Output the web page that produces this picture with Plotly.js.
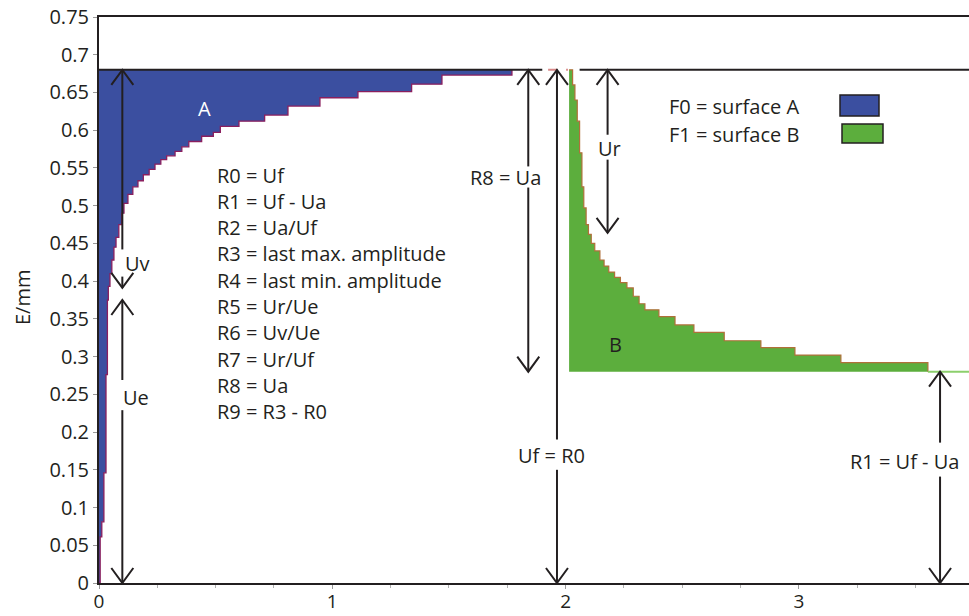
<!DOCTYPE html>
<html>
<head>
<meta charset="utf-8">
<script src="https://cdn.plot.ly/plotly-3.0.1.min.js"></script>
<style>html,body{margin:0;padding:0;background:#fff;}#chart{width:969px;height:616px;}</style>
</head>
<body>
<div id="chart"></div>
<script>
// ---- data ----
// surface A: lower staircase boundary (x where level starts, level E/mm)
const aX = [0.000, 0.005, 0.012, 0.021, 0.030, 0.036, 0.040, 0.047, 0.055, 0.064, 0.073, 0.085, 0.097, 0.107, 0.124, 0.145, 0.167, 0.190, 0.215, 0.240, 0.265, 0.290, 0.326, 0.355, 0.385, 0.440, 0.490, 0.520, 0.600, 0.710, 0.810, 0.947, 1.110, 1.340, 1.470, 1.770];
const aY = [0.000, 0.061, 0.081, 0.146, 0.276, 0.375, 0.393, 0.410, 0.428, 0.445, 0.458, 0.475, 0.490, 0.503, 0.515, 0.525, 0.533, 0.541, 0.548, 0.555, 0.561, 0.566, 0.572, 0.578, 0.585, 0.592, 0.597, 0.605, 0.612, 0.620, 0.632, 0.643, 0.651, 0.661, 0.673, 0.680];
// surface B: upper staircase boundary (relaxation)
const bX = [2.015, 2.030, 2.040, 2.050, 2.060, 2.070, 2.078, 2.088, 2.098, 2.110, 2.125, 2.147, 2.165, 2.185, 2.210, 2.235, 2.263, 2.290, 2.315, 2.340, 2.400, 2.469, 2.550, 2.680, 2.837, 2.983, 3.180, 3.553];
const bY = [0.680, 0.660, 0.640, 0.612, 0.570, 0.525, 0.497, 0.475, 0.462, 0.450, 0.440, 0.428, 0.420, 0.412, 0.405, 0.398, 0.391, 0.380, 0.370, 0.362, 0.353, 0.342, 0.332, 0.321, 0.312, 0.302, 0.292, 0.280];
// characteristic levels
const Uf = 0.68;          // max level
const Ua = 0.40;          // recovered part
const R1 = Uf - Ua;       // remaining level (0.28)
const UvBottom = 0.391;
const UeTop = 0.375;
const UrBottom = 0.464;
// tick labels
const yTicks = [0,0.05,0.1,0.15,0.2,0.25,0.3,0.35,0.4,0.45,0.5,0.55,0.6,0.65,0.7,0.75];
const yTickText = ['0','0.05','0.1','0.15','0.2','0.25','0.3','0.35','0.4','0.45','0.5','0.55','0.6','0.65','0.7','0.75'];
const xTicks = [0,1,2,3];
const xTickText = ['0','1','2','3'];
const rList = ['R0 = Uf','R1 = Uf - Ua','R2 = Ua/Uf','R3 = last max. amplitude','R4 = last min. amplitude','R5 = Ur/Ue','R6 = Uv/Ue','R7 = Ur/Uf','R8 = Ua','R9 = R3 - R0'];

// ---- layout geometry ----
const W = 969, H = 616, ML = 99, MR = 0, MT = 17, MB = 33;
const PW = W - ML - MR, PH = H - MT - MB;
const xMax = PW / 233.3, yMax = 0.75;
const pxX = xMax / PW, pxY = yMax / PH;   // data units per pixel
const INK = '#231f20';
const FONT = 'Open Sans, sans-serif';
const FS = 20;

const polyAx = aX.concat([0, 0]);
const polyAy = aY.concat([Uf, 0]);
// polygon B: curve, then back along baseline to start, then up
const pBx = bX.concat([bX[0], bX[0]]);
const pBy = bY.concat([R1, Uf]);

const traces = [
  {x: polyAx, y: polyAy, mode: 'lines', line: {shape: 'hv', width: 0, color: '#3a4e9f'}, fill: 'toself', fillcolor: '#3b4fa0', hoverinfo: 'skip'},
  {x: aX, y: aY, mode: 'lines', line: {shape: 'hv', width: 1.3, color: '#8a1f5e'}, hoverinfo: 'skip'},
  {x: pBx, y: pBy, mode: 'lines', line: {shape: 'hv', width: 0, color: '#5aae3c'}, fill: 'toself', fillcolor: '#5cae3d', hoverinfo: 'skip'},
  {x: bX, y: bY, mode: 'lines', line: {shape: 'hv', width: 1.2, color: '#b0703a'}, hoverinfo: 'skip'},
  {x: [bX[bX.length-1], xMax], y: [R1, R1], mode: 'lines', line: {width: 2, color: '#8ccf6c'}, hoverinfo: 'skip'}
];

const shapes = [];
function seg(x0, y0, x1, y1, color, width, dash) {
  shapes.push({type: 'line', xref: 'x', yref: 'y', x0: x0, y0: y0, x1: x1, y1: y1, line: {color: color || INK, width: width || 2, dash: dash || 'solid'}});
}
function head(x, y, dir) { // dir = 1 pointing up, -1 pointing down
  const dx = 11 * pxX, dy = 15 * pxY * dir;
  shapes.push({type: 'path', xref: 'x', yref: 'y', path: 'M' + (x - dx) + ',' + (y - dy) + ' L' + x + ',' + y + ' L' + (x + dx) + ',' + (y - dy), line: {color: INK, width: 2}});
}
// top level line Uf
seg(0, Uf, 1.90, Uf);
seg(1.925, Uf, 2.01, Uf, '#d98a8a', 2, 'dash');
seg(2.06, Uf, xMax, Uf);

// Uv / Ue arrows at x = 0.1
const xv = 0.1;
seg(xv, Uf, xv, 0.442); seg(xv, 0.406, xv, UvBottom);
head(xv, Uf, 1); head(xv, UvBottom, -1);
seg(xv, UeTop, xv, 0.269); seg(xv, 0.229, xv, 0);
head(xv, UeTop, 1); head(xv, 0, -1);
// R8 = Ua
const x8 = 1.84;
seg(x8, Uf, x8, 0.552); seg(x8, 0.524, x8, R1);
head(x8, Uf, 1); head(x8, R1, -1);
// Uf = R0
const x0 = 1.963;
seg(x0, Uf, x0, 0.19); seg(x0, 0.15, x0, 0);
head(x0, Uf, 1); head(x0, 0, -1);
// Ur
const xr = 2.18;
seg(xr, Uf, xr, 0.594); seg(xr, 0.561, xr, UrBottom);
head(xr, Uf, 1); head(xr, UrBottom, -1);
// R1 = Uf - Ua
const x1 = 3.605;
seg(x1, R1, x1, 0.186); seg(x1, 0.141, x1, 0);
head(x1, R1, 1); head(x1, 0, -1);

// legend swatches (pixel geometry converted to data)
function px2x(p) { return (p - ML) * pxX; }
function px2y(p) { return (H - MB - p) * pxY; }
shapes.push({type: 'rect', xref: 'x', yref: 'y', x0: px2x(840), x1: px2x(879), y0: px2y(116), y1: px2y(95), fillcolor: '#3b4fa0', line: {color: INK, width: 1.5}});
shapes.push({type: 'rect', xref: 'x', yref: 'y', x0: px2x(842), x1: px2x(883), y0: px2y(143), y1: px2y(124), fillcolor: '#5cae3d', line: {color: INK, width: 1.5}});

const ann = [];
function txt(x, y, t, opts) {
  ann.push(Object.assign({x: x, y: y, xref: 'x', yref: 'y', text: t, showarrow: false, font: {family: FONT, size: FS, color: INK}, xanchor: 'center', yanchor: 'middle'}, opts || {}));
}
txt(px2x(204), px2y(108), 'A', {font: {family: FONT, size: FS, color: '#ffffff'}});
txt(px2x(137), px2y(263), 'Uv');
txt(px2x(136), px2y(397), 'Ue');
rList.forEach(function (t, i) { txt(px2x(215), px2y(175 + i * 26.3), t, {xanchor: 'left'}); });
txt(px2x(505), px2y(177), 'R8 = Ua');
txt(px2x(551), px2y(455), 'Uf = R0');
txt(px2x(609), px2y(148), 'Ur');
txt(px2x(904), px2y(461), 'R1 = Uf - Ua');
txt(px2x(615), px2y(344), 'B');
txt(px2x(667), px2y(106), 'F0 = surface A', {xanchor: 'left'});
txt(px2x(667), px2y(134), 'F1 = surface B', {xanchor: 'left'});
ann.push({xref: 'paper', yref: 'paper', x: (22 - ML) / PW, y: (H - MB - 298) / PH, text: 'E/mm', textangle: -90, showarrow: false, font: {family: FONT, size: FS, color: INK}, xanchor: 'center', yanchor: 'middle'});

const layout = {
  width: W, height: H,
  margin: {l: ML, r: MR, t: MT, b: MB, pad: 0},
  paper_bgcolor: '#ffffff', plot_bgcolor: '#ffffff',
  showlegend: false,
  font: {family: FONT, size: FS, color: INK},
  xaxis: {range: [0, xMax], tickvals: xTicks, ticktext: xTickText, showgrid: false, zeroline: false,
          showline: true, linecolor: INK, linewidth: 2, mirror: true,
          ticks: 'outside', ticklen: 4, tickcolor: '#9a9a9a', tickwidth: 1, ticklabelstandoff: -4,
          minor: {dtick: 0.25, ticks: 'outside', ticklen: 3, tickcolor: '#b0b0b0', showgrid: false},
          tickfont: {family: FONT, size: 19, color: INK}, fixedrange: true},
  yaxis: {range: [0, yMax], tickvals: yTicks, ticktext: yTickText, showgrid: false, zeroline: false,
          showline: true, linecolor: INK, linewidth: 2,
          ticks: 'outside', ticklen: 4, tickcolor: '#9a9a9a', tickwidth: 1,
          tickfont: {family: FONT, size: FS, color: INK}, fixedrange: true},
  shapes: shapes,
  annotations: ann
};
Plotly.newPlot('chart', traces, layout, {displayModeBar: false, staticPlot: true});
</script>
</body>
</html>
